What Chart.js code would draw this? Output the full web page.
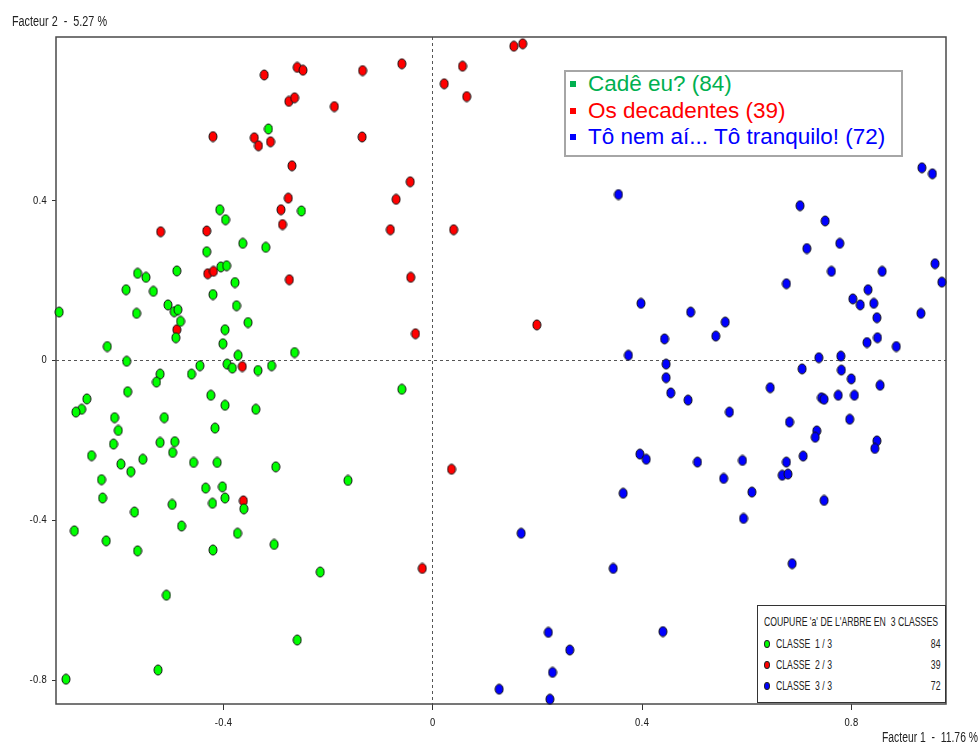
<!DOCTYPE html>
<html>
<head>
<meta charset="utf-8">
<script src="https://cdn.jsdelivr.net/npm/chart.js@4/dist/chart.umd.min.js"></script>
<style>
html,body{margin:0;padding:0;background:#fff;}
#wrap{position:relative;width:979px;height:749px;overflow:hidden;}
#c{position:absolute;left:0;top:0;}
.narrow{font-family:'Liberation Sans',Arial,sans-serif;color:#222;white-space:pre;position:absolute;}
#ytitle{left:12px;top:13px;font-size:14px;line-height:16px;}
#xtitle{left:882px;top:729px;font-size:14px;line-height:16px;}
#leg1{position:absolute;left:564px;top:70px;width:339px;height:87px;box-sizing:border-box;border:2px solid #a6a6a6;background:#fff;font-family:'Liberation Sans',Arial,sans-serif;font-size:22.5px;}
#leg1 .row{position:absolute;left:0;height:26px;line-height:26px;white-space:pre;}
#leg1 .sq{position:absolute;left:4px;top:10px;width:6px;height:6px;}
#leg1 .tx{position:absolute;left:22px;top:0;}
#leg2{position:absolute;left:757px;top:605px;width:189px;height:98px;box-sizing:border-box;border:1.5px solid #333;background:#fff;}
#leg2 .narrow{font-size:13px;line-height:14px;}
#leg2 .dot{position:absolute;width:6px;height:8px;border-radius:50%;border:1px solid #222;box-sizing:border-box;}
</style>
</head>
<body>
<div id="wrap">
  <canvas id="c" width="979" height="749" style="width:979px;height:749px;"></canvas>
  <div class="narrow" id="ytitle">Facteur 2  -  5.27 %</div>
  <div class="narrow" id="xtitle">Facteur 1  -  11.76 %</div>
  <div id="leg1"></div>
  <div id="leg2"></div>
</div>
<script>
// ---- data ----
const classNames = ['Cadê eu?', 'Os decadentes', 'Tô nem aí... Tô tranquilo!'];
const classCounts = [84, 39, 72];
const cutTitle = "COUPURE 'a' DE L'ARBRE EN  3 CLASSES";
const cutLabels = ['CLASSE  1 / 3', 'CLASSE  2 / 3', 'CLASSE  3 / 3'];
const xTicks = [-0.4, 0, 0.4, 0.8];
const yTicks = [-0.8, -0.4, 0, 0.4];
const xRange = [-0.72, 0.981];
const yRange = [-0.858, 0.81];

const classe1X = [-0.314,-0.407,-0.396,-0.251,-0.363,-0.319,-0.432,-0.714,-0.564,-0.548,
 -0.489,-0.405,-0.394,-0.378,-0.586,-0.534,-0.420,-0.566,-0.506,-0.494,
 -0.487,-0.482,-0.491,-0.375,-0.353,-0.397,-0.401,-0.622,-0.585,-0.372,
 -0.264,-0.445,-0.393,-0.383,-0.334,-0.308,-0.461,-0.521,-0.528,-0.583,
 -0.424,-0.397,-0.338,-0.661,-0.671,-0.682,-0.608,-0.601,-0.513,-0.416,
 -0.610,-0.521,-0.493,-0.497,-0.652,-0.596,-0.554,-0.577,-0.457,-0.412,
 -0.300,-0.633,-0.162,-0.059,-0.631,-0.570,-0.498,-0.434,-0.402,-0.397,
 -0.421,-0.361,-0.480,-0.373,-0.685,-0.624,-0.564,-0.420,-0.303,-0.215,
 -0.509,-0.259,-0.525,-0.701];
const classe1Y = [0.580,0.378,0.353,0.375,0.294,0.284,0.273,0.122,0.219,0.209,
 0.225,0.235,0.238,0.196,0.178,0.174,0.166,0.119,0.140,0.123,
 0.128,0.099,0.058,0.138,0.096,0.078,0.043,0.036,-0.001,0.014,
 0.021,-0.012,-0.008,-0.018,-0.024,-0.012,-0.033,-0.033,-0.053,-0.077,
 -0.086,-0.111,-0.121,-0.095,-0.121,-0.128,-0.142,-0.174,-0.142,-0.168,
 -0.208,-0.204,-0.202,-0.229,-0.237,-0.258,-0.246,-0.277,-0.254,-0.254,
 -0.265,-0.297,-0.299,-0.071,-0.343,-0.378,-0.359,-0.318,-0.315,-0.343,
 -0.356,-0.370,-0.413,-0.431,-0.425,-0.450,-0.475,-0.473,-0.459,-0.528,
 -0.586,-0.698,-0.773,-0.796];

const classe2X = [-0.322,-0.259,-0.248,-0.275,-0.264,-0.188,-0.341,-0.333,-0.310,-0.420,
 -0.269,-0.276,-0.290,-0.287,-0.520,-0.432,-0.134,-0.059,0.022,0.057,
 0.065,0.155,0.172,-0.135,-0.043,-0.070,-0.081,0.040,-0.430,-0.419,
 -0.274,-0.489,-0.364,-0.042,-0.033,0.199,0.036,-0.362,-0.020];
const classe2Y = [0.715,0.734,0.727,0.649,0.658,0.636,0.558,0.538,0.548,0.561,
 0.488,0.407,0.378,0.341,0.323,0.325,0.726,0.743,0.693,0.737,
 0.661,0.787,0.793,0.560,0.448,0.404,0.328,0.328,0.218,0.224,
 0.203,0.078,-0.014,0.209,0.068,0.090,-0.271,-0.350,-0.519];

const classe3X = [0.355,0.935,0.955,0.702,0.750,0.778,0.715,0.960,0.398,0.374,
 0.396,0.408,0.762,0.859,0.973,0.676,0.493,0.559,0.541,0.443,
 0.803,0.817,0.832,0.843,0.849,0.933,0.830,0.850,0.886,0.738,
 0.780,0.446,0.706,0.781,0.446,0.800,0.455,0.645,0.855,0.488,
 0.743,0.748,0.775,0.806,0.567,0.797,0.682,0.734,0.731,0.849,
 0.845,0.506,0.592,0.676,0.668,0.679,0.708,0.556,0.364,0.169,
 0.345,0.221,0.262,0.229,0.127,0.224,0.610,0.748,0.594,0.687,0.440];
const classe3Y = [0.416,0.483,0.468,0.388,0.350,0.294,0.281,0.243,0.144,0.014,
 -0.233,-0.246,0.224,0.224,0.197,0.193,0.122,0.097,0.062,0.055,
 0.155,0.140,0.178,0.144,0.108,0.119,0.046,0.058,0.036,0.008,
 0.012,-0.008,-0.020,-0.023,-0.042,-0.045,-0.080,-0.067,-0.061,-0.098,
 -0.092,-0.096,-0.086,-0.086,-0.128,-0.146,-0.153,-0.175,-0.191,-0.200,
 -0.219,-0.253,-0.249,-0.253,-0.286,-0.283,-0.238,-0.294,-0.331,-0.431,
 -0.519,-0.679,-0.723,-0.779,-0.821,-0.846,-0.328,-0.349,-0.394,-0.507,-0.677];

// ---- styles ----
const pointColors = ['#00ff00', '#ff0000', '#0000ff'];
const textColors = ['#00b050', '#ff0000', '#0000ff'];

function marker(fill) {
  const w = 10, h = 12;
  const c = document.createElement('canvas');
  c.width = w; c.height = h;
  const g = c.getContext('2d');
  g.beginPath();
  g.ellipse(w / 2, h / 2, w / 2 - 1, h / 2 - 1, 0, 0, Math.PI * 2);
  g.fillStyle = fill; g.fill();
  g.lineWidth = 1; g.strokeStyle = '#111'; g.stroke();
  return c;
}
function pts(xs, ys) { return xs.map((x, i) => ({ x: x, y: ys[i] })); }

const seriesX = [classe1X, classe2X, classe3X];
const seriesY = [classe1Y, classe2Y, classe3Y];
const datasets = seriesX.map((xs, i) => ({
  label: cutLabels[i],
  data: pts(xs, seriesY[i]),
  pointStyle: marker(pointColors[i]),
  pointRadius: 5,
  pointHoverRadius: 5,
  backgroundColor: pointColors[i],
  borderColor: '#111',
  clip: 8
}));

const framePlugin = {
  id: 'frame',
  beforeDatasetsDraw(chart) {
    const { ctx, chartArea: a } = chart;
    ctx.save();
    ctx.strokeStyle = '#4a4a4a';
    ctx.lineWidth = 1.5;
    ctx.strokeRect(a.left, a.top, a.right - a.left, a.bottom - a.top);
    ctx.restore();
  }
};

const zeroGrid = (ctx) => (ctx.tick && ctx.tick.value === 0) ? '#555' : 'rgba(0,0,0,0)';
const tickFont = { family: "'Liberation Sans Narrow','DejaVu Sans Condensed','Liberation Sans',sans-serif", size: 10 };
const fmt = (v) => (v === 0 ? '0' : String(v));

new Chart(document.getElementById('c'), {
  type: 'scatter',
  data: { datasets: datasets },
  plugins: [framePlugin],
  options: {
    responsive: false,
    animation: false,
    devicePixelRatio: 1,
    layout: { padding: { top: 37, right: 33, bottom: 0, left: 0 } },
    plugins: { legend: { display: false }, tooltip: { enabled: false } },
    scales: {
      x: {
        type: 'linear', min: xRange[0], max: xRange[1],
        afterBuildTicks: (s) => { s.ticks = xTicks.map(v => ({ value: v })); },
        afterFit: (s) => { s.height = 45; },
        grid: { color: zeroGrid, lineWidth: 1, drawTicks: true, tickLength: 6, tickColor: '#333', tickWidth: 1 },
        border: { display: false, dash: [3, 3] },
        ticks: { font: tickFont, color: '#222', padding: 7, maxRotation: 0, callback: fmt }
      },
      y: {
        type: 'linear', min: yRange[0], max: yRange[1],
        afterBuildTicks: (s) => { s.ticks = yTicks.map(v => ({ value: v })); },
        afterFit: (s) => { s.width = 56; },
        grid: { color: zeroGrid, lineWidth: 1, drawTicks: true, tickLength: 4, tickColor: '#333', tickWidth: 1 },
        border: { display: false, dash: [3, 3] },
        ticks: { font: tickFont, color: '#222', padding: 5, callback: fmt }
      }
    }
  }
});

// ---- text helpers: condense text to the reference's narrow width ----
function squeeze(el, scale, origin) {
  el.style.transformOrigin = (origin || 'left') + ' center';
  el.style.transform = 'scaleX(' + scale + ')';
}
function fitTo(el, target, origin) {
  const w = el.getBoundingClientRect().width;
  const s = target / w;
  squeeze(el, s, origin);
  return s;
}
fitTo(document.getElementById('ytitle'), 95);
fitTo(document.getElementById('xtitle'), 96);

// ---- legends (HTML text) ----
const leg1 = document.getElementById('leg1');
const rowCenters1 = [12.3, 39, 65.3];
classNames.forEach((name, i) => {
  const r = document.createElement('div');
  r.className = 'row';
  r.style.top = (rowCenters1[i] - 13) + 'px';
  r.style.width = '334px';
  const sq = document.createElement('span');
  sq.className = 'sq'; sq.style.background = textColors[i];
  const tx = document.createElement('span');
  tx.className = 'tx'; tx.style.color = textColors[i];
  tx.textContent = name + ' (' + classCounts[i] + ')';
  r.appendChild(sq); r.appendChild(tx);
  leg1.appendChild(r);
});

const leg2 = document.getElementById('leg2');
const t = document.createElement('div');
t.className = 'narrow'; t.style.left = '6px'; t.style.top = '9px';
t.textContent = cutTitle;
leg2.appendChild(t);
const k = fitTo(t, 174);
const rowCenters2 = [37.5, 58.5, 80.2];
cutLabels.forEach((lab, i) => {
  const d = document.createElement('span');
  d.className = 'dot'; d.style.left = '6px'; d.style.top = (rowCenters2[i] - 4) + 'px';
  d.style.background = pointColors[i];
  leg2.appendChild(d);
  const l = document.createElement('div');
  l.className = 'narrow'; l.style.left = '18px'; l.style.top = (rowCenters2[i] - 7) + 'px';
  l.textContent = lab;
  leg2.appendChild(l);
  squeeze(l, k, 'left');
  const n = document.createElement('div');
  n.className = 'narrow'; n.style.right = '5px'; n.style.top = (rowCenters2[i] - 7) + 'px';
  n.textContent = String(classCounts[i]);
  leg2.appendChild(n);
  squeeze(n, k, 'right');
});
</script>
</body>
</html>
